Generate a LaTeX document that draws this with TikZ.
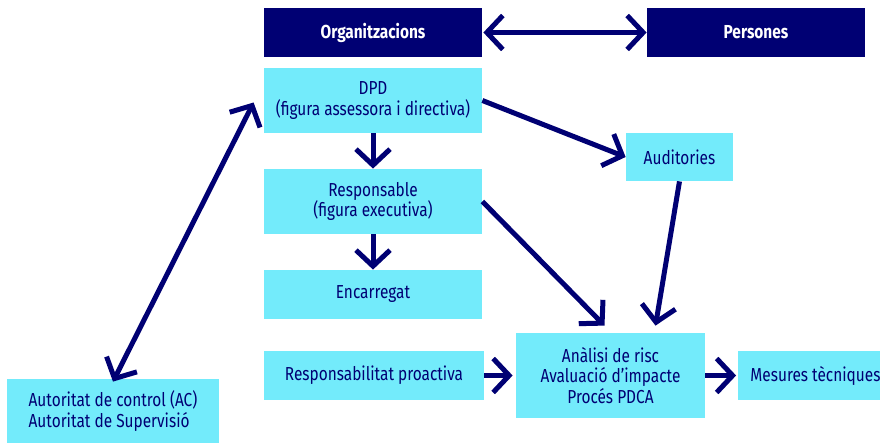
\documentclass[tikz,border=0pt]{standalone}
\usepackage{fontspec}
\setmainfont{Fira Sans}[FakeStretch=0.82]
\usetikzlibrary{arrows.meta}
\definecolor{navy}{RGB}{0,0,115}
\definecolor{lightcyan}{RGB}{115,235,251}
\begin{document}
\begin{tikzpicture}[x=0.5pt,y=-0.5pt]
        \tikzset{
            headbox/.style={fill=navy,text=white,font=\fontsize{9.4}{10.3}\selectfont\bfseries,minimum width=109pt,minimum height=24.5pt,inner sep=0pt},
            rolebox/.style={fill=lightcyan,text=navy,font=\fontsize{9.4}{10.3}\selectfont,minimum height=24.5pt,inner sep=0pt,align=center},
            link/.style={draw=navy,line width=2.5pt,-{Straight Barb[length=8pt,width=17pt]}},
        }
        \useasboundingbox (0,0) rectangle (880,443);

        \node[headbox] (org) at(373,32.5) {Organitzacions};
        \node[headbox] (pers) at(756,32.5) {Persones};
        \node[rolebox,minimum width=109pt,minimum height=32.5pt] (dpd) at(373,100.5) {DPD\\(figura assessora i directiva)};
        \node[rolebox,minimum width=53.5pt,minimum height=24pt] (aud) at(679.5,157) {Auditories};
        \node[rolebox,minimum width=109pt,minimum height=32.5pt] (resp) at(373,201.5) {Responsable\\(figura executiva)};
        \node[rolebox,minimum width=109pt] (enc) at(373,294.5) {Encarregat};
        \node[rolebox,minimum width=110pt] (proact) at(374,375.5) {Responsabilitat proactiva};
        \node[rolebox,minimum width=94.5pt,minimum height=42.5pt] (risc) at(610.5,375.5) {Anàlisi de risc\\Avaluació d’impacte\\Procés PDCA};
        \node[rolebox,minimum width=70.5pt] (mes) at(809.5,375.5) {\hspace*{6pt}Mesures tècniques};
        \node[rolebox,minimum width=106pt,minimum height=32pt,align=left] (aut) at(113,411) {Autoritat de control (AC)\\Autoritat de Supervisió};

        \draw[link,{Straight Barb[length=8pt,width=17pt]}-{Straight Barb[length=8pt,width=17pt]},shorten <=0.5pt] (org) -- (pers);
        \draw[link] (dpd) -- (resp);
        \draw[link] (resp) -- (enc);
        \draw[link] (dpd.east) -- (aud.west);
        \draw[link] (resp.east) -- ([shift={(-6,-7)}]risc.north);
        \draw[link] (aud.south) -- ([shift={(45,-7)}]risc.north);
        \draw[link,shorten >=1.5pt] (proact) -- (risc);
        \draw[link,shorten >=1pt] (risc) -- (mes);
        \draw[link,{Straight Barb[length=8pt,width=17pt]}-{Straight Barb[length=8pt,width=17pt]}] ([yshift=-1.5pt]aut.north) -- ([shift={(-10,2)}]dpd.west);
    \end{tikzpicture}
\end{document}
